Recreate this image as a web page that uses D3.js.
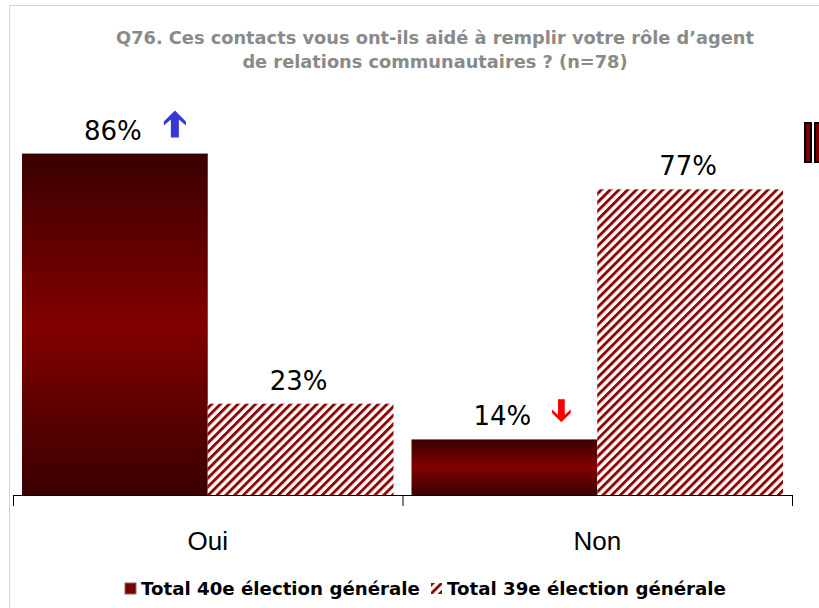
<!DOCTYPE html>
<html>
<head>
<meta charset="utf-8">
<script src="https://cdn.jsdelivr.net/npm/d3@7"></script>
<style>
  body { margin: 0; background: #fff; }
  svg { display: block; font-family: "Liberation Sans", Arial, sans-serif; }
</style>
</head>
<body>
<div id="chart"></div>
<script>
// Chart data
const categories = ['Oui', 'Non'];
const seriesNames = ['Total 40e élection générale', 'Total 39e élection générale'];
const values40 = [86, 14];
const values39 = [23, 77];
const trend40 = ['up', 'down']; // significance arrows next to the 40e labels
const titleLines = [
    'Q76. Ces contacts vous ont-ils aidé à remplir votre rôle d\u2019agent',
    'de relations communautaires ? (n=78)'
];

const width = 819, height = 608;
const svg = d3.select('#chart').append('svg')
    .attr('width', width)
    .attr('height', height);

const defs = svg.append('defs');

// Dark-bright-dark red gradient for the solid bars
const grad = defs.append('linearGradient')
    .attr('id', 'barGrad')
    .attr('x1', 0).attr('y1', 0).attr('x2', 0).attr('y2', 1);
grad.append('stop').attr('offset', '0%').attr('stop-color', '#3a0000');
grad.append('stop').attr('offset', '50%').attr('stop-color', '#820000');
grad.append('stop').attr('offset', '100%').attr('stop-color', '#3a0000');

// Diagonal hatch for the 39e series
const hatch = defs.append('pattern')
    .attr('id', 'hatch')
    .attr('patternUnits', 'userSpaceOnUse')
    .attr('width', 6.2).attr('height', 10)
    .attr('patternTransform', 'rotate(45)');
hatch.append('rect').attr('width', 6.2).attr('height', 10).attr('fill', '#fff');
hatch.append('rect').attr('width', 2.9).attr('height', 10).attr('fill', '#8e0606');

// Frame border (light grey)
svg.append('path')
    .attr('d', 'M9.5,' + height + 'V5.5H' + width)
    .attr('fill', 'none')
    .attr('stroke', '#d4d4d4')
    .attr('stroke-width', 1);

// Title
svg.append('text')
    .attr('x', 435)
    .attr('y', 44)
    .attr('text-anchor', 'middle')
    .attr('font-family', '"DejaVu Sans", Verdana, sans-serif')
    .attr('font-weight', 'bold')
    .attr('font-size', 17.8)
    .attr('fill', '#8a8a8a')
    .selectAll('tspan')
    .data(titleLines)
    .enter().append('tspan')
    .attr('x', 435)
    .attr('dy', (d, i) => i === 0 ? 0 : 24)
    .text(d => d);

// Scales
const x = d3.scaleBand()
    .domain(categories)
    .range([13, 792]);

const xs = d3.scaleBand()
    .domain([0, 1])
    .range([9, x.bandwidth() - 9]);

const y = d3.scaleLinear()
    .domain([0, 100])
    .range([495, 98]);

const rows = categories.map((c, i) => ({ cat: c, v40: values40[i], v39: values39[i], trend: trend40[i] }));

const g = svg.append('g');

// Bars, 40e (gradient)
g.selectAll('.bar40')
    .data(rows)
    .enter().append('rect')
    .attr('class', 'bar40')
    .attr('x', d => x(d.cat) + xs(0))
    .attr('y', d => y(d.v40))
    .attr('width', xs.bandwidth())
    .attr('height', d => y(0) - y(d.v40))
    .attr('fill', 'url(#barGrad)');

// Bars, 39e (hatched)
g.selectAll('.bar39')
    .data(rows)
    .enter().append('rect')
    .attr('class', 'bar39')
    .attr('x', d => x(d.cat) + xs(1))
    .attr('y', d => y(d.v39))
    .attr('width', xs.bandwidth())
    .attr('height', d => y(0) - y(d.v39))
    .attr('fill', 'url(#hatch)');

// Value labels
const labelData = [];
rows.forEach(d => {
    labelData.push({ cx: x(d.cat) + xs(0) + xs.bandwidth() / 2, v: d.v40 });
    labelData.push({ cx: x(d.cat) + xs(1) + xs.bandwidth() / 2, v: d.v39 });
});
g.selectAll('.val')
    .data(labelData)
    .enter().append('text')
    .attr('class', 'val')
    .attr('x', d => d.cx - 2)
    .attr('y', d => y(d.v) - 14)
    .attr('text-anchor', 'middle')
    .attr('font-family', '"DejaVu Sans", Verdana, sans-serif')
    .attr('font-size', 26)
    .attr('fill', '#000')
    .text(d => d.v + '%');

// Significance arrows
const upArrow = 'M0,-14 L11,-3 L11,1 L4,-5 L4,13 L-4,13 L-4,-5 L-11,1 L-11,-3 Z';
g.selectAll('.arrow')
    .data(rows)
    .enter().append('path')
    .attr('class', 'arrow')
    .attr('d', upArrow)
    .attr('transform', d => {
        const cx = x(d.cat) + xs(0) + xs.bandwidth() / 2;
        if (d.trend === 'up') return 'translate(' + (cx + 60) + ',' + (y(d.v40) - 29) + ')';
        return 'translate(' + (cx + 57) + ',' + (y(d.v40) - 29) + ') rotate(180) scale(0.85)';
    })
    .attr('fill', d => d.trend === 'up' ? '#3636d6' : '#ff0000');

// Category axis (ticks between categories)
const xAxisScale = d3.scaleLinear()
    .domain([0, categories.length])
    .range([13, 792]);
const axis = g.append('g')
    .attr('transform', 'translate(0,' + y(0) + ')')
    .call(d3.axisBottom(xAxisScale)
        .tickValues(d3.range(categories.length + 1))
        .tickSize(11)
        .tickSizeOuter(0)
        .tickFormat(''));
axis.select('.domain').attr('stroke', '#000');
axis.selectAll('.tick line').attr('stroke', '#000');

g.selectAll('.cat')
    .data(categories)
    .enter().append('text')
    .attr('class', 'cat')
    .attr('x', d => x(d) + x.bandwidth() / 2)
    .attr('y', 550)
    .attr('text-anchor', 'middle')
    .attr('font-size', 26)
    .attr('fill', '#000')
    .text(d => d);

// Legend
const legendX = [125, 431];
const legend = svg.append('g');
const items = legend.selectAll('g')
    .data(seriesNames)
    .enter().append('g')
    .attr('transform', (d, i) => 'translate(' + legendX[i] + ',583)');
items.append('rect')
    .attr('width', 11).attr('height', 11)
    .attr('fill', (d, i) => i === 0 ? '#7a0000' : 'url(#hatch)')
    .attr('stroke', (d, i) => i === 0 ? '#8a6a6a' : 'none');
items.append('text')
    .attr('x', 16)
    .attr('y', 11.5)
    .attr('font-family', '"DejaVu Sans", Verdana, sans-serif')
    .attr('font-size', 18.2)
    .attr('font-weight', 'bold')
    .attr('fill', '#000')
    .text(d => d);

// Clipped element at the right edge
svg.selectAll('.edge')
    .data([805, 815])
    .enter().append('rect')
    .attr('class', 'edge')
    .attr('x', d => d)
    .attr('y', 123)
    .attr('width', 6)
    .attr('height', 39)
    .attr('fill', '#7a0000')
    .attr('stroke', '#000')
    .attr('stroke-width', 2);
</script>
</body>
</html>
